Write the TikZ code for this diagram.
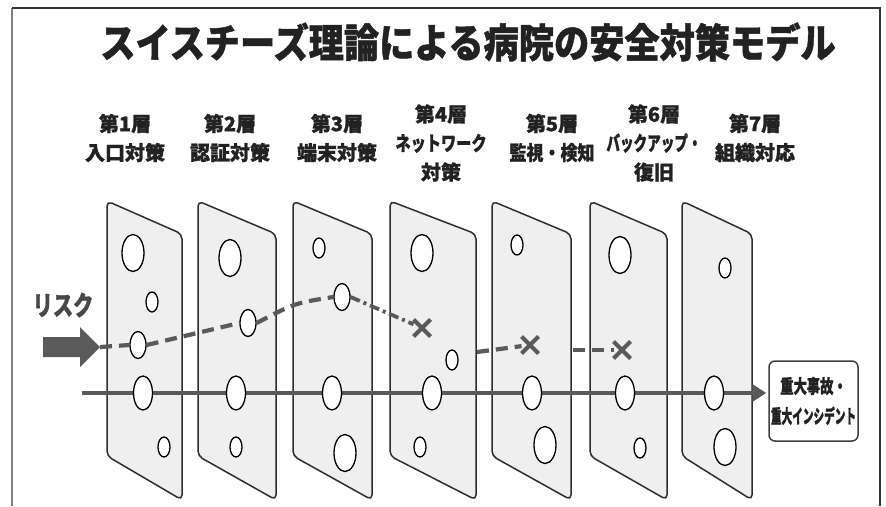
\documentclass[tikz,border=0pt]{standalone}
\usepackage{fontspec}
\newfontfamily\jp{Noto Sans CJK JP}[BoldFeatures={FakeBold=1.2}]
\usetikzlibrary{shapes.geometric,shapes.misc,arrows.meta}
\definecolor{panelfill}{HTML}{EFEFEF}
\definecolor{paneldraw}{HTML}{2E2E2E}
\definecolor{lineg}{HTML}{5A5A5A}
\definecolor{txt}{HTML}{222222}
\newcommand{\sx}[2]{\scalebox{#1}[1]{#2}}
\begin{document}
\begin{tikzpicture}[x=1pt,y=-1pt,
  panel/.style={draw=paneldraw,fill=panelfill,line width=1.5pt,rounded corners=5pt},
  hole/.style={ellipse,draw=black,fill=white,line width=1.3pt,inner sep=0pt},
  big/.style={hole,minimum width=22pt,minimum height=37pt},
  med/.style={hole,minimum width=16pt,minimum height=27pt},
  onl/.style={hole,minimum width=19pt,minimum height=34pt},
  sml/.style={hole,minimum width=12pt,minimum height=20pt},
  lay/.style={text=txt,font=\jp\bfseries\fontsize{20}{29}\selectfont,align=center,inner sep=0pt},
  riskpath/.style={draw=lineg,line width=4.2pt,dash pattern=on 12pt off 7pt},
  riskdot/.style={draw=lineg,line width=3.8pt,dash pattern=on 10pt off 4pt on 3pt off 4pt},
  xmark/.style={cross out,draw=lineg,line width=4pt,minimum size=13pt,inner sep=0pt},
  mainline/.style={draw=lineg,line width=4pt,-{Triangle[length=14pt,width=17pt]}}
]
\useasboundingbox (0,0) rectangle (886,506);
\fill[white] (0,0) rectangle (886,506);
% frame
\draw[gray,line width=2pt] (12,506) -- (12,8);
\draw[black!80,line width=1.5pt] (12,8) -- (880,8) -- (880,506);
% title
\node[text=txt,font=\jp\bfseries\fontsize{40}{40}\selectfont,inner sep=0pt] (title) at (468,42)
  {\sx{0.88}{スイスチーズ理論による病院の安全対策モデル}};
% layer labels
\node[lay] (l1) at (125,138) {第1層\\入口対策};
\node[lay] (l2) at (230,138) {第2層\\認証対策};
\node[lay] (l3) at (337,138) {第3層\\端末対策};
\node[lay] (l4) at (441,143) {第4層\\\sx{0.76}{ネットワーク}\\対策};
\node[lay] (l5) at (552,138) {第5層\\\sx{0.85}{監視・検知}};
\node[lay] (l6) at (654,143) {第6層\\\sx{0.68}{バックアップ・}\\復旧};
\node[lay] (l7) at (755,138) {第7層\\組織対応};
% panels
\foreach \xl/\xr in {107/182,198/276,293/372,390/476,492/571,590/667,682/752}
  \draw[panel] (\xl,201) -- (\xr,234) -- (\xr,500) -- (\xl,456) -- cycle;
% final box
\node[draw=black!75,fill=white,line width=1.5pt,rounded corners=6pt,
  minimum width=89pt,minimum height=80pt,inner sep=0pt,align=center,text=txt,
  font=\jp\bfseries\fontsize{19}{30}\selectfont] (fin) at (813.5,401)
  {\sx{0.7}{重大事故・}\\\sx{0.56}{重大インシデント}};
% main line
\coordinate (ls) at (82,393);
\draw[mainline,shorten >=2pt] (ls) -- (ls -| fin.west);
% holes
\node[big] (a1) at (133,253) {};
\node[sml] (b1) at (152,302) {};
\node[med] (c1) at (138,345) {};
\node[onl] (d1) at (143,393) {};
\node[sml] (e1) at (164,447) {};
\node[big] (a2) at (230,258) {};
\node[med] (c2) at (248,323) {};
\node[onl] (d2) at (236,393) {};
\node[sml] (e2) at (236,447) {};
\node[sml] (a3) at (319,248) {};
\node[med] (c3) at (342,297) {};
\node[onl] (d3) at (332,393) {};
\node[big] (e3) at (345,453) {};
\node[big] (a4) at (422,253) {};
\node[sml] (b4) at (452,360) {};
\node[onl] (d4) at (432,393) {};
\node[sml] (e4) at (420,447) {};
\node[sml] (a5) at (517,245) {};
\node[onl] (d5) at (532,393) {};
\node[big] (e5) at (545,445) {};
\node[big] (a6) at (620,255) {};
\node[onl] (d6) at (625,393) {};
\node[sml] (e6) at (640,448) {};
\node[sml] (a7) at (725,268) {};
\node[onl] (d7) at (714,393) {};
\node[big] (e7) at (725,447) {};
% risk arrow
\coordinate (rtip) at (100,347);
\fill[lineg] (43,337) -- (80,337) -- (80,327) -- (rtip) -- (80,367) -- (80,357) -- (43,357) -- cycle;
\node[text=lineg!80!black,font=\jp\bfseries\fontsize{27}{27}\selectfont,inner sep=0pt] (risk) at (63,305) {\sx{0.75}{リスク}};
% x marks
\node[xmark] (x4) at (422,328) {};
\node[xmark] (x5) at (530,345) {};
\node[xmark] (x6) at (622,350) {};
% risk path
\draw[riskpath] (rtip) -- (c1.west);
\draw[riskpath] (c1.east) -- (c2.west);
\draw[riskpath] (c2.east) .. controls (295,303) .. (c3.west);
\draw[riskdot] (c3.east) -- (x4);
\coordinate (s5) at (477,352);
\draw[riskpath] (s5) -- (x5);
\coordinate (s6) at (573,350);
\draw[riskpath] (s6) -- (x6);
\end{tikzpicture}
\end{document}
